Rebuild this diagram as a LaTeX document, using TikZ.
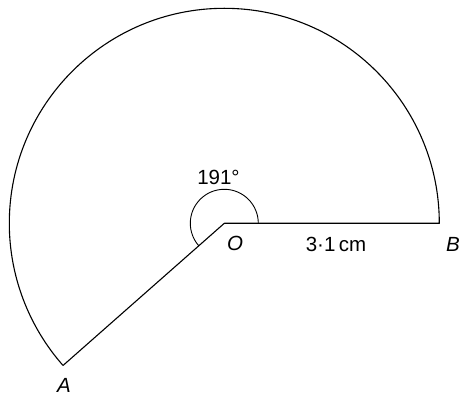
\documentclass[tikz,border=0pt]{standalone}
\usepackage{fontspec}
\setmainfont{Liberation Sans}
\usetikzlibrary{calc}
\begin{document}
\begin{tikzpicture}[x=1pt,y=1pt,
  edge/.style={line width=1.1pt, line join=round},
  lbl/.style={font=\fontsize{20.5}{24}\selectfont, inner sep=0pt}]
\useasboundingbox (0,0) rectangle (460,396);
\coordinate (O) at (224.3,172.7);
\coordinate (B) at ($(O)+(0:215)$);
\coordinate (A) at ($(O)+(221.4:215)$);
\draw[edge] (A) -- (O) -- (B) arc[start angle=0, end angle=221.4, radius=215];
\draw[line width=0.9pt] ($(O)+(0:34)$) arc[start angle=0, end angle=221.4, radius=34];
\node[lbl] (ang) at (218.5,219) {191°};
\node[lbl] (len) at (336,152) {3·1\,cm};
\node[lbl] (lo) at (235,153) {\itshape O};
\node[lbl] (lb) at (453,152) {\itshape B};
\node[lbl] (la) at (64,11) {\itshape A};
\end{tikzpicture}
\end{document}
